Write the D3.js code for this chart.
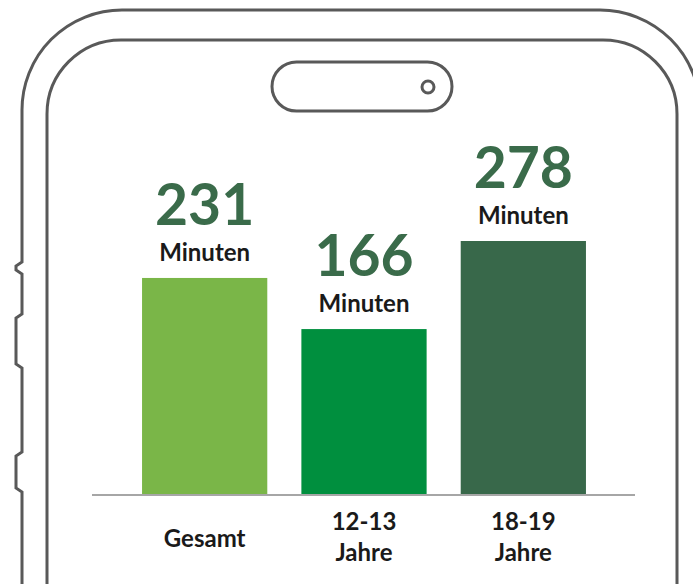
<!DOCTYPE html>
<html>
<head>
<meta charset="utf-8">
<script src="https://cdn.jsdelivr.net/npm/d3@7"></script>
<style>
  body{margin:0;background:#fff}
  svg{display:block}
</style>
</head>
<body>
<svg id="chart" width="693" height="584"></svg>
<script>
const categories=['Gesamt','12-13 Jahre','18-19 Jahre']
const labelLines=[['Gesamt'],['12-13','Jahre'],['18-19','Jahre']]
const minutes=[231,166,278]
const unit='Minuten'
const barColors=['#7ab648','#008f3e','#38684a']

const svg=d3.select('#chart')
const frame='#595959'

// phone outline, outer shell with side buttons
const outer=d3.path()
outer.moveTo(22,590)
outer.lineTo(22,492);outer.lineTo(16,488);outer.lineTo(16,456);outer.lineTo(22,452)
outer.lineTo(22,368);outer.lineTo(16,364);outer.lineTo(16,318);outer.lineTo(22,314)
outer.lineTo(22,274);outer.lineTo(16,270)
outer.lineTo(16,266);outer.lineTo(22,262)
outer.lineTo(22,110)
outer.arcTo(22,10,122,10,100)
outer.lineTo(600,10)
outer.arcTo(700,10,700,110,100)
outer.lineTo(700,590)
svg.append('path').attr('d',outer.toString())
  .attr('fill','none').attr('stroke',frame).attr('stroke-width',3)

const inner=d3.path()
inner.moveTo(47,590)
inner.lineTo(47,114)
inner.arcTo(47,40,121,40,74)
inner.lineTo(603,40)
inner.arcTo(677,40,677,114,74)
inner.lineTo(677,590)
svg.append('path').attr('d',inner.toString())
  .attr('fill','none').attr('stroke',frame).attr('stroke-width',3)

// notch
svg.append('rect').attr('x',272).attr('y',62).attr('width',180).attr('height',49)
  .attr('rx',24.5).attr('fill','none').attr('stroke',frame).attr('stroke-width',3)
svg.append('circle').attr('cx',428).attr('cy',87).attr('r',6)
  .attr('fill','none').attr('stroke',frame).attr('stroke-width',3)

const x=d3.scaleBand().domain(categories).range([125,603])
  .paddingInner(0.214).paddingOuter(0.107)
const y=d3.scaleLinear().domain([-45,278]).range([495,241])

svg.selectAll('rect.bar').data(minutes).join('rect')
  .attr('class','bar')
  .attr('x',(d,i)=>x(categories[i]))
  .attr('width',x.bandwidth())
  .attr('y',d=>y(d))
  .attr('height',d=>y(-45)-y(d))
  .attr('fill',(d,i)=>barColors[i])

svg.append('line').attr('x1',92).attr('x2',635).attr('y1',495).attr('y2',495)
  .attr('stroke','#a6a6a6').attr('stroke-width',2)

const font='Lato, sans-serif'
svg.selectAll('text.val').data(minutes).join('text')
  .attr('class','val')
  .attr('x',(d,i)=>x(categories[i])+x.bandwidth()/2)
  .attr('y',d=>y(d)-53)
  .attr('text-anchor','middle')
  .attr('font-family',font).attr('font-weight',700).attr('font-size',57)
  .attr('fill','#3a6b4a')
  .text(d=>d)

svg.selectAll('text.unit').data(minutes).join('text')
  .attr('class','unit')
  .attr('x',(d,i)=>x(categories[i])+x.bandwidth()/2)
  .attr('y',d=>y(d)-17)
  .attr('text-anchor','middle')
  .attr('font-family',font).attr('font-weight',700).attr('font-size',24)
  .attr('fill','#1a1a1a')
  .text(unit)

const cat=svg.selectAll('text.cat').data(labelLines).join('text')
  .attr('class','cat')
  .attr('x',(d,i)=>x(categories[i])+x.bandwidth()/2)
  .attr('y',d=>d.length==1?547:530)
  .attr('text-anchor','middle')
  .attr('font-family',font).attr('font-weight',700).attr('font-size',24)
  .attr('fill','#1a1a1a')
cat.selectAll('tspan').data(d=>d).join('tspan')
  .attr('x',function(){return this.parentNode.getAttribute('x')})
  .attr('dy',(d,i)=>i?31:0)
  .text(d=>d)
</script>
</body>
</html>
